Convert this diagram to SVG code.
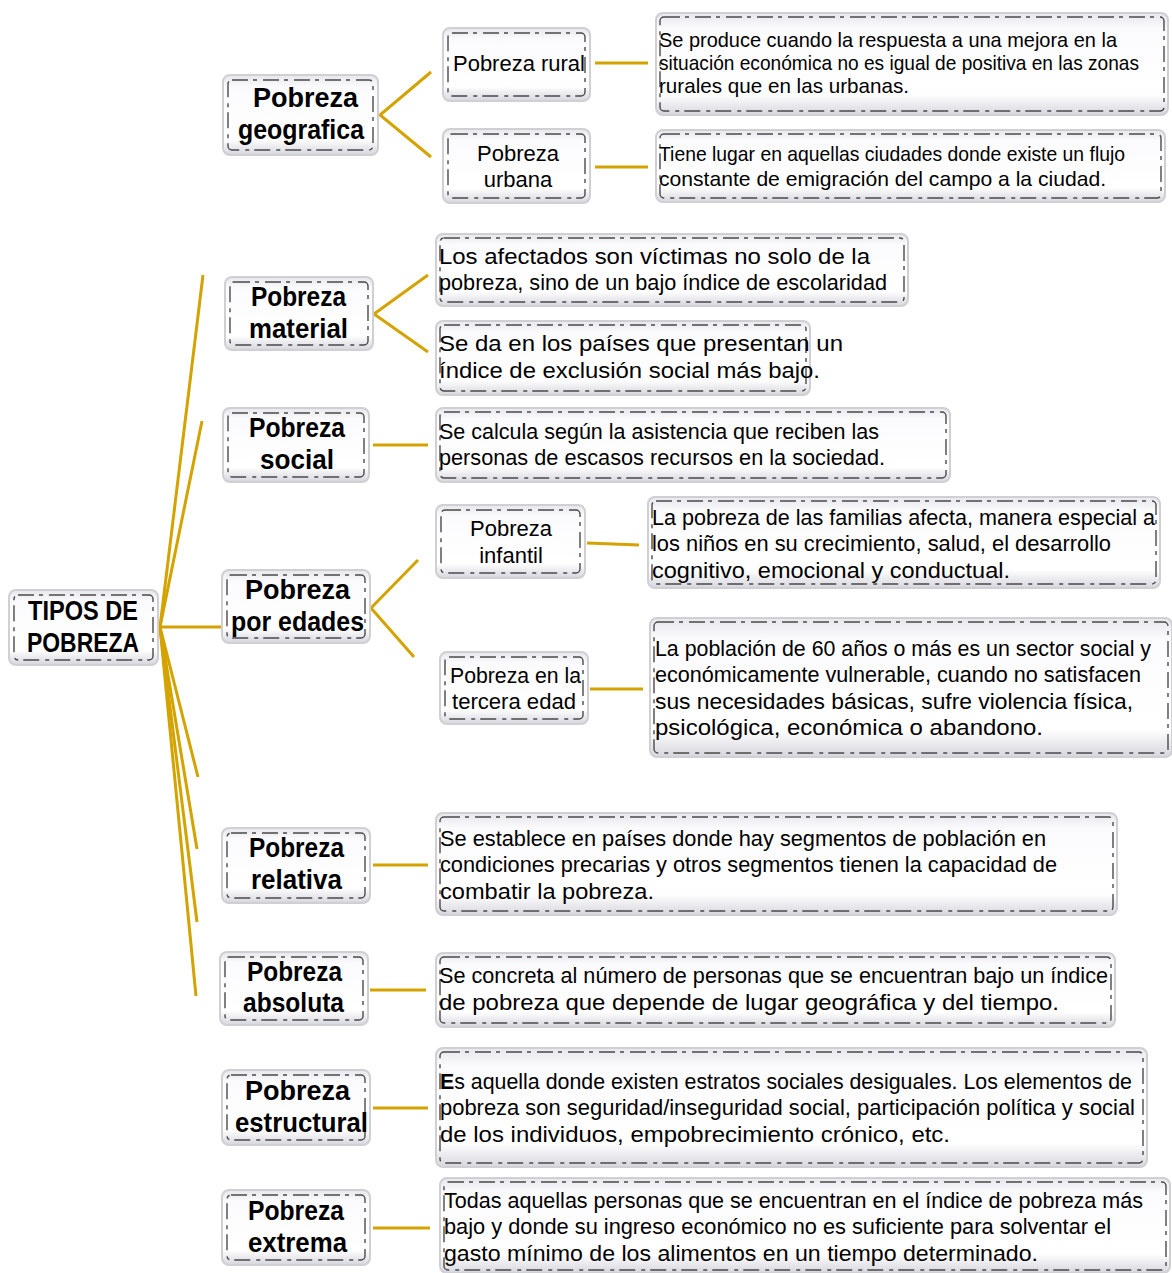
<svg xmlns="http://www.w3.org/2000/svg" width="1172" height="1273" viewBox="0 0 1172 1273">
<defs>
<linearGradient id="g" x1="0" y1="0" x2="0" y2="1">
<stop offset="0" stop-color="#e6e6ec"/>
<stop offset="0.15" stop-color="#fbfbfd"/>
<stop offset="0.8" stop-color="#ffffff"/>
<stop offset="1" stop-color="#d6d6de"/>
</linearGradient>
<style>
.b{fill:url(#g);stroke:#cfcfd4;stroke-width:2}
.d{fill:none;stroke:#4a4a4a;stroke-width:1.4;stroke-dasharray:16 5 4 6}
.c{stroke:#d4a300;stroke-width:3;fill:none}
.h{font-family:"Liberation Sans",Arial,sans-serif;font-weight:bold;font-size:27px;fill:#000;text-anchor:start}
.s{font-family:"Liberation Sans",Arial,sans-serif;font-size:22px;fill:#000}
.t{font-family:"Liberation Sans",Arial,sans-serif;font-size:21px;fill:#000}
</style>
</defs>
<rect width="1172" height="1273" fill="#fff"/>

<g id="connectors">
<line class="c" x1="160" y1="627" x2="203" y2="275"/>
<line class="c" x1="160" y1="627" x2="202" y2="421"/>
<line class="c" x1="160" y1="627" x2="223" y2="627"/>
<line class="c" x1="160" y1="627" x2="198" y2="777"/>
<line class="c" x1="160" y1="627" x2="197" y2="849"/>
<line class="c" x1="160" y1="627" x2="197" y2="922"/>
<line class="c" x1="160" y1="627" x2="196" y2="996"/>
<polyline class="c" points="431,72 380,115 431,157"/>
<line class="c" x1="595" y1="63" x2="648" y2="63"/>
<line class="c" x1="595" y1="167" x2="648" y2="167"/>
<polyline class="c" points="428,275 374,314 428,352"/>
<line class="c" x1="373" y1="445" x2="428" y2="445"/>
<polyline class="c" points="418,560 371,608 414,657"/>
<line class="c" x1="587" y1="543" x2="639" y2="545"/>
<line class="c" x1="590" y1="689" x2="643" y2="689"/>
<line class="c" x1="373" y1="865" x2="428" y2="865"/>
<line class="c" x1="370" y1="990" x2="426" y2="990"/>
<line class="c" x1="373" y1="1108" x2="428" y2="1108"/>
<line class="c" x1="373" y1="1228" x2="430" y2="1228"/>
</g>

<g id="root">
<rect class="b" x="9" y="590" width="149" height="75" rx="7"/>
<rect class="d" x="14" y="595" width="139" height="65" rx="4"/>
<text class="h" x="28" y="620" textLength="110" lengthAdjust="spacingAndGlyphs">TIPOS DE</text>
<text class="h" x="27" y="652" textLength="112" lengthAdjust="spacingAndGlyphs">POBREZA</text>
</g>

<g id="geografica">
<rect class="b" x="223" y="75" width="155" height="80" rx="7"/>
<rect class="d" x="228" y="80" width="145" height="70" rx="4"/>
<text class="h" x="253" y="107" textLength="105" lengthAdjust="spacingAndGlyphs">Pobreza</text>
<text class="h" x="238" y="139" textLength="126" lengthAdjust="spacingAndGlyphs">geografica</text>
</g>
<g id="rural">
<rect class="b" x="443" y="28" width="147" height="73" rx="7"/>
<rect class="d" x="448" y="33" width="137" height="63" rx="4"/>
<text class="s" x="453" y="71" textLength="132" lengthAdjust="spacingAndGlyphs">Pobreza rural</text>
</g>
<g id="urbana">
<rect class="b" x="443" y="129" width="147" height="74" rx="7"/>
<rect class="d" x="448" y="134" width="137" height="64" rx="4"/>
<text class="s" x="518" y="161" text-anchor="middle">Pobreza</text>
<text class="s" x="518" y="187" text-anchor="middle">urbana</text>
</g>
<g id="rural-desc">
<rect class="b" x="656" y="13" width="512" height="102" rx="7"/>
<rect class="d" x="660" y="17" width="504" height="94" rx="4"/>
<text class="t" x="659" y="47" textLength="458" lengthAdjust="spacingAndGlyphs">Se produce cuando la respuesta a una mejora en la</text>
<text class="t" x="659" y="70" textLength="480" lengthAdjust="spacingAndGlyphs">situación económica no es igual de positiva en las zonas</text>
<text class="t" x="659" y="93" textLength="250" lengthAdjust="spacingAndGlyphs">rurales que en las urbanas.</text>
</g>
<g id="urbana-desc">
<rect class="b" x="656" y="130" width="509" height="72" rx="7"/>
<rect class="d" x="660" y="134" width="501" height="64" rx="4"/>
<text class="t" x="659" y="161" textLength="466" lengthAdjust="spacingAndGlyphs">Tiene lugar en aquellas ciudades donde existe un flujo</text>
<text class="t" x="659" y="186" textLength="447" lengthAdjust="spacingAndGlyphs">constante de emigración del campo a la ciudad.</text>
</g>

<g id="material">
<rect class="b" x="225" y="277" width="148" height="73" rx="7"/>
<rect class="d" x="230" y="282" width="138" height="63" rx="4"/>
<text class="h" x="251" y="306" textLength="95" lengthAdjust="spacingAndGlyphs">Pobreza</text>
<text class="h" x="249" y="338" textLength="99" lengthAdjust="spacingAndGlyphs">material</text>
</g>
<g id="material-desc1">
<rect class="b" x="436" y="234" width="472" height="72" rx="7"/>
<rect class="d" x="440" y="238" width="464" height="64" rx="4"/>
<text class="s" x="439" y="264" textLength="431" lengthAdjust="spacingAndGlyphs">Los afectados son víctimas no solo de la</text>
<text class="s" x="439" y="290" textLength="448" lengthAdjust="spacingAndGlyphs">pobreza, sino de un bajo índice de escolaridad</text>
</g>
<g id="material-desc2">
<rect class="b" x="436" y="321" width="374" height="74" rx="7"/>
<rect class="d" x="440" y="325" width="366" height="66" rx="4"/>
<text class="s" x="439" y="351" textLength="404" lengthAdjust="spacingAndGlyphs">Se da en los países que presentan un</text>
<text class="s" x="439" y="378" textLength="381" lengthAdjust="spacingAndGlyphs">índice de exclusión social más bajo.</text>
</g>

<g id="social">
<rect class="b" x="223" y="408" width="146" height="74" rx="7"/>
<rect class="d" x="228" y="413" width="136" height="64" rx="4"/>
<text class="h" x="249" y="437" textLength="96" lengthAdjust="spacingAndGlyphs">Pobreza</text>
<text class="h" x="260" y="469" textLength="74" lengthAdjust="spacingAndGlyphs">social</text>
</g>
<g id="social-desc">
<rect class="b" x="436" y="408" width="514" height="74" rx="7"/>
<rect class="d" x="440" y="412" width="506" height="66" rx="4"/>
<text class="s" x="439" y="439" textLength="440" lengthAdjust="spacingAndGlyphs">Se calcula según la asistencia que reciben las</text>
<text class="s" x="439" y="465" textLength="446" lengthAdjust="spacingAndGlyphs">personas de escasos recursos en la sociedad.</text>
</g>

<g id="edades">
<rect class="b" x="222" y="570" width="148" height="73" rx="7"/>
<rect class="d" x="227" y="575" width="138" height="63" rx="4"/>
<text class="h" x="245" y="599" textLength="105" lengthAdjust="spacingAndGlyphs">Pobreza</text>
<text class="h" x="231" y="631" textLength="133" lengthAdjust="spacingAndGlyphs">por edades</text>
</g>
<g id="infantil">
<rect class="b" x="436" y="505" width="149" height="73" rx="7"/>
<rect class="d" x="441" y="510" width="139" height="63" rx="4"/>
<text class="s" x="511" y="536" text-anchor="middle">Pobreza</text>
<text class="s" x="511" y="563" text-anchor="middle">infantil</text>
</g>
<g id="infantil-desc">
<rect class="b" x="648" y="497" width="512" height="91" rx="7"/>
<rect class="d" x="652" y="501" width="504" height="83" rx="4"/>
<text class="s" x="652" y="525" textLength="503" lengthAdjust="spacingAndGlyphs">La pobreza de las familias afecta, manera especial a</text>
<text class="s" x="652" y="551" textLength="459" lengthAdjust="spacingAndGlyphs">los niños en su crecimiento, salud, el desarrollo</text>
<text class="s" x="652" y="578" textLength="358" lengthAdjust="spacingAndGlyphs">cognitivo, emocional y conductual.</text>
</g>
<g id="tercera">
<rect class="b" x="440" y="652" width="148" height="72" rx="7"/>
<rect class="d" x="445" y="657" width="138" height="62" rx="4"/>
<text class="s" x="450" y="683" textLength="131" lengthAdjust="spacingAndGlyphs">Pobreza en la</text>
<text class="s" x="452" y="709" textLength="124" lengthAdjust="spacingAndGlyphs">tercera edad</text>
</g>
<g id="tercera-desc">
<rect class="b" x="650" y="618" width="522" height="139" rx="7"/>
<rect class="d" x="654" y="622" width="514" height="131" rx="4"/>
<text class="s" x="655" y="656" textLength="496" lengthAdjust="spacingAndGlyphs">La población de 60 años o más es un sector social y</text>
<text class="s" x="655" y="682" textLength="486" lengthAdjust="spacingAndGlyphs">económicamente vulnerable, cuando no satisfacen</text>
<text class="s" x="655" y="709" textLength="478" lengthAdjust="spacingAndGlyphs">sus necesidades básicas, sufre violencia física,</text>
<text class="s" x="655" y="735" textLength="388" lengthAdjust="spacingAndGlyphs">psicológica, económica o abandono.</text>
</g>

<g id="relativa">
<rect class="b" x="222" y="828" width="148" height="75" rx="7"/>
<rect class="d" x="227" y="833" width="138" height="65" rx="4"/>
<text class="h" x="249" y="857" textLength="95" lengthAdjust="spacingAndGlyphs">Pobreza</text>
<text class="h" x="251" y="889" textLength="91" lengthAdjust="spacingAndGlyphs">relativa</text>
</g>
<g id="relativa-desc">
<rect class="b" x="436" y="813" width="681" height="102" rx="7"/>
<rect class="d" x="440" y="817" width="673" height="94" rx="4"/>
<text class="s" x="440" y="846" textLength="606" lengthAdjust="spacingAndGlyphs">Se establece en países donde hay segmentos de población en</text>
<text class="s" x="440" y="872" textLength="617" lengthAdjust="spacingAndGlyphs">condiciones precarias y otros segmentos tienen la capacidad de</text>
<text class="s" x="440" y="899" textLength="214" lengthAdjust="spacingAndGlyphs">combatir la pobreza.</text>
</g>

<g id="absoluta">
<rect class="b" x="220" y="952" width="148" height="73" rx="7"/>
<rect class="d" x="225" y="957" width="138" height="63" rx="4"/>
<text class="h" x="247" y="981" textLength="95" lengthAdjust="spacingAndGlyphs">Pobreza</text>
<text class="h" x="243" y="1012" textLength="101" lengthAdjust="spacingAndGlyphs">absoluta</text>
</g>
<g id="absoluta-desc">
<rect class="b" x="436" y="953" width="679" height="74" rx="7"/>
<rect class="d" x="440" y="957" width="671" height="66" rx="4"/>
<text class="s" x="439" y="983" textLength="669" lengthAdjust="spacingAndGlyphs">Se concreta al número de personas que se encuentran bajo un índice</text>
<text class="s" x="439" y="1010" textLength="620" lengthAdjust="spacingAndGlyphs">de pobreza que depende de lugar geográfica y del tiempo.</text>
</g>

<g id="estructural">
<rect class="b" x="222" y="1070" width="148" height="75" rx="7"/>
<rect class="d" x="227" y="1075" width="138" height="65" rx="4"/>
<text class="h" x="245" y="1100" textLength="105" lengthAdjust="spacingAndGlyphs">Pobreza</text>
<text class="h" x="235" y="1132" textLength="133" lengthAdjust="spacingAndGlyphs">estructural</text>
</g>
<g id="estructural-desc">
<rect class="b" x="436" y="1048" width="711" height="119" rx="7"/>
<rect class="d" x="440" y="1052" width="703" height="111" rx="4"/>
<text class="s" x="440" y="1089" textLength="692" lengthAdjust="spacingAndGlyphs"><tspan font-weight="bold">E</tspan>s aquella donde existen estratos sociales desiguales. Los elementos de</text>
<text class="s" x="440" y="1115" textLength="695" lengthAdjust="spacingAndGlyphs">pobreza son  seguridad/inseguridad social, participación política y  social</text>
<text class="s" x="440" y="1142" textLength="510" lengthAdjust="spacingAndGlyphs">de los individuos, empobrecimiento crónico, etc.</text>
</g>

<g id="extrema">
<rect class="b" x="222" y="1190" width="148" height="75" rx="7"/>
<rect class="d" x="227" y="1195" width="138" height="65" rx="4"/>
<text class="h" x="248" y="1220" textLength="96" lengthAdjust="spacingAndGlyphs">Pobreza</text>
<text class="h" x="248" y="1252" textLength="99" lengthAdjust="spacingAndGlyphs">extrema</text>
</g>
<g id="extrema-desc">
<rect class="b" x="440" y="1178" width="730" height="95" rx="7"/>
<rect class="d" x="444" y="1182" width="722" height="88" rx="4"/>
<text class="s" x="444" y="1208" textLength="699" lengthAdjust="spacingAndGlyphs">Todas aquellas personas que se encuentran en el índice de pobreza más</text>
<text class="s" x="444" y="1234" textLength="667" lengthAdjust="spacingAndGlyphs">bajo y donde su ingreso económico no es suficiente para solventar el</text>
<text class="s" x="444" y="1261" textLength="594" lengthAdjust="spacingAndGlyphs">gasto mínimo de los alimentos en un tiempo determinado.</text>
</g>
</svg>
